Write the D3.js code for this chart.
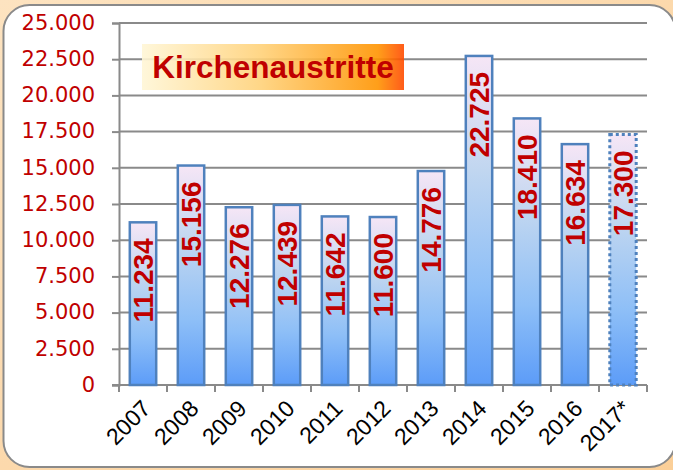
<!DOCTYPE html>
<html>
<head>
<meta charset="utf-8">
<script src="https://cdn.jsdelivr.net/npm/d3@7"></script>
<style>
  html, body { margin: 0; padding: 0; background: #fcd7a6; }
  #chart { width: 673px; height: 470px; }
</style>
</head>
<body>
<div id="chart"></div>
<script>
const years = ["2007", "2008", "2009", "2010", "2011", "2012", "2013", "2014", "2015", "2016", "2017*"];
const exits = [11234, 15156, 12276, 12439, 11642, 11600, 14776, 22725, 18410, 16634, 17300];
const yTicks = [0, 2500, 5000, 7500, 10000, 12500, 15000, 17500, 20000, 22500, 25000];
const estimated = ["2017*"];
const title = "Kirchenaustritte";

const width = 673;
const height = 470;
const margin = { top: 23, right: 26, bottom: 85, left: 119 };

const svg = d3.select("#chart")
  .append("svg")
  .attr("width", width)
  .attr("height", height);

const defs = svg.append("defs");

const bg = defs.append("linearGradient").attr("id", "bg")
  .attr("x1", 0).attr("y1", 0).attr("x2", 1).attr("y2", 1);
bg.append("stop").attr("offset", "0%").attr("stop-color", "#fde3c0");
bg.append("stop").attr("offset", "100%").attr("stop-color", "#fbcf98");

const barGrad = defs.append("linearGradient").attr("id", "barGrad")
  .attr("x1", 0).attr("y1", 0).attr("x2", 0).attr("y2", 1);
barGrad.append("stop").attr("offset", "0%").attr("stop-color", "#f6e6f6");
barGrad.append("stop").attr("offset", "35%").attr("stop-color", "#c0d6f0");
barGrad.append("stop").attr("offset", "70%").attr("stop-color", "#8ebff7");
barGrad.append("stop").attr("offset", "100%").attr("stop-color", "#5c9cf8");

const titleGrad = defs.append("linearGradient").attr("id", "titleGrad")
  .attr("x1", 0).attr("y1", 0).attr("x2", 1).attr("y2", 0);
titleGrad.append("stop").attr("offset", "0%").attr("stop-color", "#fff6d6");
titleGrad.append("stop").attr("offset", "45%").attr("stop-color", "#ffd27a");
titleGrad.append("stop").attr("offset", "90%").attr("stop-color", "#ff9400");
titleGrad.append("stop").attr("offset", "100%").attr("stop-color", "#ff4a00");

// frame
svg.append("rect").attr("width", width).attr("height", height).attr("fill", "url(#bg)");
svg.append("rect")
  .attr("x", 3.5).attr("y", 5)
  .attr("width", 672).attr("height", 462)
  .attr("rx", 26).attr("ry", 26)
  .attr("fill", "#fff")
  .attr("stroke", "#8a8a8a")
  .attr("stroke-width", 2);

const chartWidth = width - margin.left - margin.right;
const chartHeight = height - margin.top - margin.bottom;

const g = svg.append("g")
  .attr("transform", `translate(${margin.left},${margin.top})`);

const x = d3.scaleBand()
  .domain(years)
  .range([0, chartWidth])
  .paddingInner(0.45)
  .paddingOuter(0.225);

const y = d3.scaleLinear()
  .domain([0, 25000])
  .range([chartHeight, 0]);

// gridlines + y axis
const yAxis = g.append("g")
  .call(d3.axisLeft(y).tickValues(yTicks).tickSize(7).tickPadding(17)
    .tickFormat(d => d3.format(",")(d).replace(/,/g, ".")));
yAxis.select(".domain").attr("stroke", "#8a8a8a").attr("stroke-width", 2);
yAxis.selectAll(".tick line").attr("stroke", "#8a8a8a").attr("stroke-width", 2);
yAxis.selectAll(".tick text")
  .attr("fill", "#c00000")
  .attr("font-family", "DejaVu Sans, sans-serif")
  .attr("font-size", 21)
  .attr("dy", "0.3em");

g.append("g")
  .selectAll("line")
  .data(yTicks.filter(d => d > 0))
  .join("line")
  .attr("x1", 0).attr("x2", chartWidth)
  .attr("y1", d => y(d)).attr("y2", d => y(d))
  .attr("stroke", "#8a8a8a")
  .attr("stroke-width", 2);

// x axis
const step = x.step();
const xAxis = g.append("g").attr("transform", `translate(0,${chartHeight})`);
xAxis.append("line")
  .attr("x1", -7).attr("x2", chartWidth)
  .attr("stroke", "#8a8a8a").attr("stroke-width", 2);
xAxis.selectAll(".xtick")
  .data(d3.range(years.length + 1))
  .join("line")
  .attr("x1", i => i * step).attr("x2", i => i * step)
  .attr("y1", 0).attr("y2", 7)
  .attr("stroke", "#8a8a8a").attr("stroke-width", 2);
xAxis.selectAll(".xlab")
  .data(years)
  .join("text")
  .attr("transform", d => `translate(${x(d) + x.bandwidth() / 2 + 9},${25}) rotate(-45)`)
  .attr("text-anchor", "end")
  .attr("font-family", "Liberation Sans, Arial, sans-serif")
  .attr("font-size", 23)
  .attr("fill", "#000")
  .text(d => d);

// title box
const tb = svg.append("g");
tb.append("rect")
  .attr("x", 142).attr("y", 44)
  .attr("width", 262).attr("height", 46)
  .attr("fill", "url(#titleGrad)")
  .attr("opacity", 0.9);
tb.append("text")
  .attr("x", 273).attr("y", 78)
  .attr("text-anchor", "middle")
  .attr("font-family", "Liberation Sans, Arial, sans-serif")
  .attr("font-weight", "bold")
  .attr("font-size", 31.5)
  .attr("fill", "#c00000")
  .text(title);

// bars
const data = years.map((yr, i) => ({ year: yr, value: exits[i] }));

g.append("g")
  .selectAll("rect")
  .data(data)
  .join("rect")
  .attr("x", d => x(d.year))
  .attr("y", d => y(d.value))
  .attr("width", x.bandwidth())
  .attr("height", d => chartHeight - y(d.value))
  .attr("fill", "url(#barGrad)")
  .attr("stroke", "#4f81bd")
  .attr("stroke-width", d => estimated.includes(d.year) ? 3 : 2.5)
  .attr("stroke-dasharray", d => estimated.includes(d.year) ? "3,3" : null);

g.append("g")
  .selectAll("text")
  .data(data)
  .join("text")
  .attr("transform", d => `translate(${x(d.year) + x.bandwidth() / 2},${y(d.value) + 16}) rotate(-90)`)
  .attr("text-anchor", "end")
  .attr("dy", "0.36em")
  .attr("font-family", "Liberation Sans, Arial, sans-serif")
  .attr("font-weight", "bold")
  .attr("font-size", 28)
  .attr("fill", "#c00000")
  .text(d => d3.format(",")(d.value).replace(/,/g, "."));
</script>
</body>
</html>
